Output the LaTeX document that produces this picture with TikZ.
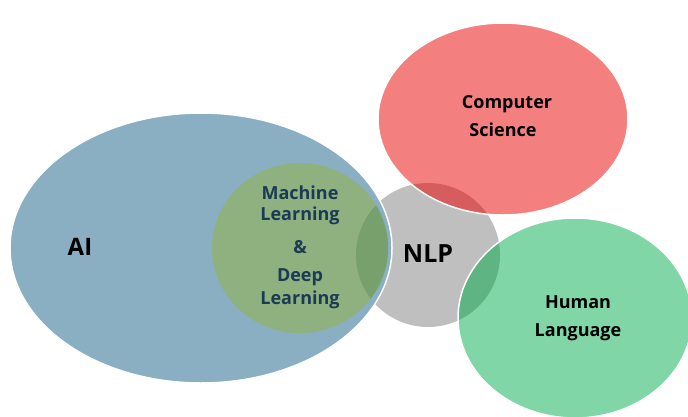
\documentclass[tikz,border=0pt]{standalone}
\usepackage{fontspec}
\setmainfont{Open Sans}
\definecolor{aiblue}{HTML}{8AAFC2}
\definecolor{mlgreen}{HTML}{8FB180}
\definecolor{mldark}{HTML}{78A06D}
\definecolor{nlpgrey}{HTML}{BFBFBF}
\definecolor{csred}{HTML}{F47F7F}
\definecolor{csdark}{HTML}{D65C5E}
\definecolor{hlgreen}{HTML}{80D6A6}
\definecolor{hldark}{HTML}{5EB483}
\definecolor{mltext}{HTML}{1B3A55}
\begin{document}
\begin{tikzpicture}[x=1pt,y=-1pt,
  rim/.style={draw=white,line width=1.5pt},
  biglabel/.style={font=\bfseries\fontsize{24}{28}\selectfont,text=black},
  label/.style={font=\bfseries\fontsize{18}{22}\selectfont,text=black,align=center},
  mllabel/.style={font=\bfseries\fontsize{18}{22}\selectfont,text=mltext}]
\useasboundingbox (0,0) rectangle (688,416);
\clip (0,0) rectangle (688,416);
% NLP circle sits underneath everything
\fill[nlpgrey] (428,255) circle (72);
% AI and the machine learning circle inside it
\fill[aiblue] (201,248) ellipse (191 and 135);
\fill[mlgreen] (300,248) ellipse (88 and 85);
\begin{scope}
  \clip (428,255) circle (72);
  \fill[mldark] (300,248) ellipse (88 and 85);
\end{scope}
\draw[rim] (201,248) ellipse (191 and 135);
% computer science
\fill[csred] (503,119) ellipse (125 and 96);
\begin{scope}
  \clip (428,255) circle (72);
  \fill[csdark] (503,119) ellipse (125 and 96);
\end{scope}
\draw[rim] (503,119) ellipse (125 and 96);
% human language
\fill[hlgreen] (575,318) ellipse (117 and 100);
\begin{scope}
  \clip (428,255) circle (72);
  \fill[hldark] (575,318) ellipse (117 and 100);
\end{scope}
\draw[rim] (575,318) ellipse (117 and 100);
% labels
\node[biglabel] (ai) at (80,247) {AI};
\node[biglabel,font=\bfseries\fontsize{25}{28}\selectfont] (nlp) at (428,254) {NLP};
\node[mllabel] (ml1) at (300,193) {Machine};
\node[mllabel] (ml2) at (300,216) {Learning};
\node[mllabel] (amp) at (300,247) {\&};
\node[mllabel] (dl1) at (300,277) {Deep};
\node[mllabel] (dl2) at (300,300) {Learning};
\node[label] (cs1) at (507,104) {Computer};
\node[label] (cs2) at (503,130) {Science};
\node[label] (hl1) at (578,302) {Human};
\node[label] (hl2) at (578,332) {Language};
\end{tikzpicture}
\end{document}
